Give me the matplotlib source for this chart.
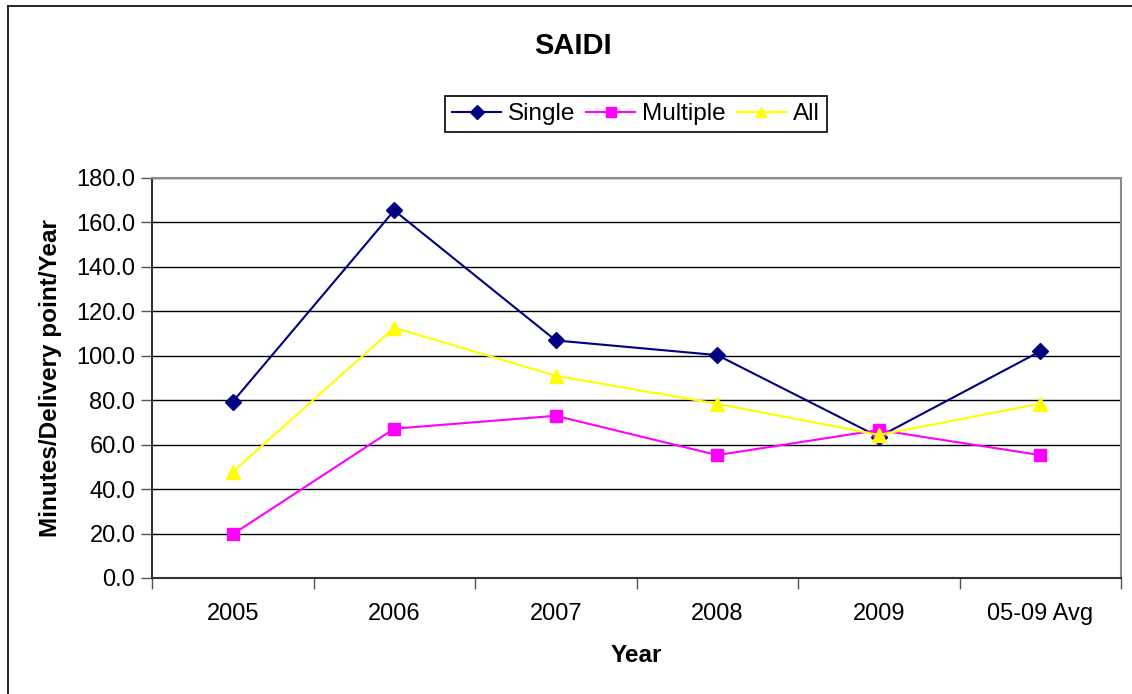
import matplotlib
matplotlib.use("Agg")
import matplotlib.pyplot as plt
from matplotlib.lines import Line2D
from matplotlib.ticker import FormatStrFormatter, FixedLocator

plt.rcParams["font.family"] = ["Liberation Sans", "DejaVu Sans"]

categories = ["2005", "2006", "2007", "2008", "2009", "05-09 Avg"]
single = [79.3, 165.4, 106.9, 100.3, 63.5, 102.0]
multiple = [19.7, 67.2, 73.0, 55.3, 66.6, 55.3]
all_events = [47.8, 112.6, 91.0, 78.4, 64.4, 78.4]

W, H = 1132, 694
fig = plt.figure(figsize=(W / 100, H / 100), dpi=100)

# chart frame (left and top edges visible)
fig.add_artist(Line2D([7.5 / W, 7.5 / W], [0, 1 - 6 / H], color="black", lw=1.2,
                      transform=fig.transFigure))
fig.add_artist(Line2D([7.5 / W, 1], [1 - 6 / H, 1 - 6 / H], color="black", lw=1.2,
                      transform=fig.transFigure))

left, right, top, bottom = 152, 1121, 178, 578
ax = fig.add_axes([left / W, 1 - bottom / H, (right - left) / W, (bottom - top) / H])

x = list(range(len(categories)))
ax.plot(x, single, color="#000080", lw=1.5, marker="D", ms=8, label="Single", zorder=3)
ax.plot(x, multiple, color="#FF00FF", lw=1.5, marker="s", ms=8, label="Multiple", zorder=3)
ax.plot(x, all_events, color="#FFFF00", lw=1.5, marker="^", ms=10, label="All", zorder=4)

ax.set_xlim(-0.5, len(categories) - 0.5)
ax.set_ylim(0, 180)
ax.set_yticks(range(0, 181, 20))
ax.yaxis.set_major_formatter(FormatStrFormatter("%.1f"))
ax.grid(axis="y", color="black", lw=1.0)
ax.set_axisbelow(True)

ax.set_xticks(x)
ax.set_xticklabels(categories)
ax.xaxis.set_minor_locator(FixedLocator([i - 0.5 for i in range(len(categories) + 1)]))
ax.tick_params(axis="x", which="major", length=0, pad=18, labelsize=17)
ax.tick_params(axis="x", which="minor", length=8, width=1.0, color="#555555", direction="out")
ax.tick_params(axis="y", length=8, width=1.0, color="#555555", pad=4, labelsize=17)

for side in ("top", "right"):
    ax.spines[side].set_color("#8c8c8c")
    ax.spines[side].set_linewidth(1.5)
for side in ("left", "bottom"):
    ax.spines[side].set_color("#333333")
    ax.spines[side].set_linewidth(1.5)

ax.set_xlabel("Year", fontsize=17.5, fontweight="bold", labelpad=14)
ax.set_ylabel("Minutes/Delivery point/Year", fontsize=17.5, fontweight="bold", labelpad=10)

fig.text(573 / W, 1 - 46 / H, "SAIDI", ha="center", va="center",
         fontsize=21, fontweight="bold")

leg = fig.legend(loc="center", bbox_to_anchor=(636 / W, 1 - 114 / H), ncol=3,
                 fontsize=17.5, frameon=True, fancybox=False, edgecolor="black",
                 handlelength=2.0, handletextpad=0.3, columnspacing=0.45,
                 borderpad=0.3, framealpha=1)
leg.get_frame().set_linewidth(1.2)
for h in leg.legend_handles:
    h.set_markersize(7)

fig.savefig("out.png", dpi=100)
